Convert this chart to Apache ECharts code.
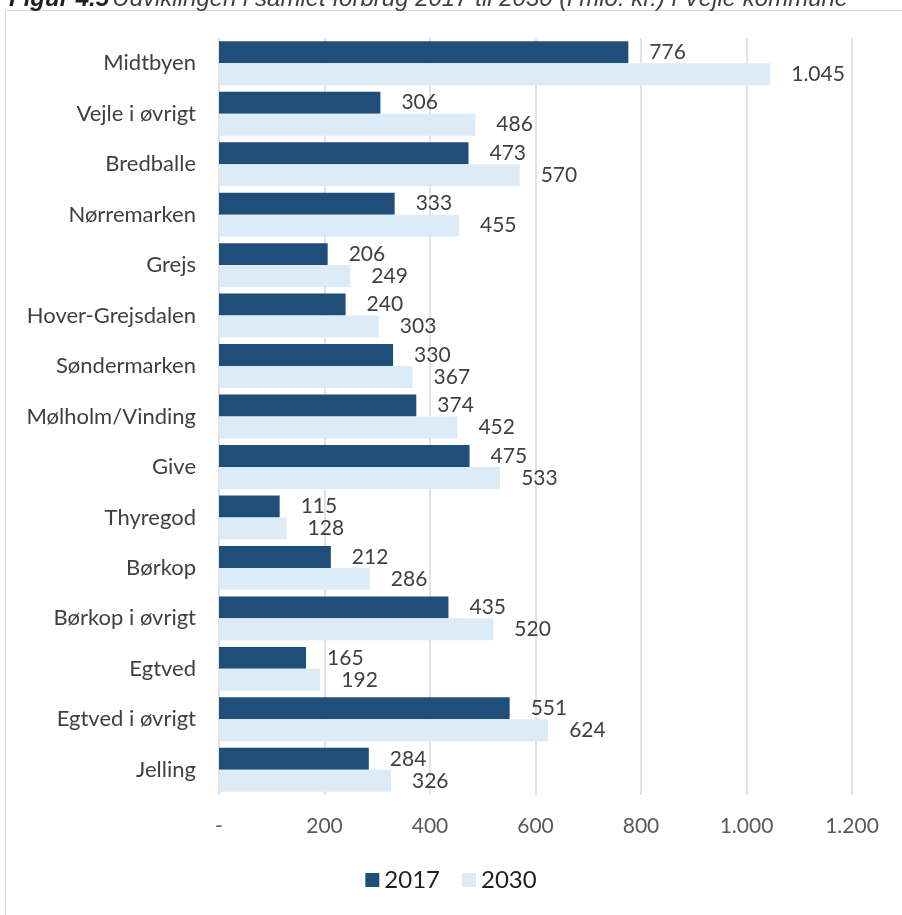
<!DOCTYPE html>
<html><head><meta charset="utf-8">
<script src="https://cdn.jsdelivr.net/npm/echarts@6/dist/echarts.min.js"></script>
<style>html,body{margin:0;padding:0;background:#fff}#c{width:902px;height:915px}</style>
</head><body><div id="c"></div>
<script>
const categories = ['Midtbyen','Vejle i øvrigt','Bredballe','Nørremarken','Grejs','Hover-Grejsdalen','Søndermarken','Mølholm/Vinding','Give','Thyregod','Børkop','Børkop i øvrigt','Egtved','Egtved i øvrigt','Jelling'];
const values2017 = [776,306,473,333,206,240,330,374,475,115,212,435,165,551,284];
const values2030 = [1045,486,570,455,249,303,367,452,533,128,286,520,192,624,326];
const seriesNames = ['2017','2030'];
const xTicks = [0,200,400,600,800,1000,1200];

function fmt(v){
  if (v === 0) return '-';
  return String(v).replace(/\B(?=(\d{3})+(?!\d))/g,'.');
}
const FONT = 'Lato';
const TFONT = 'Liberation Sans';
const chart = echarts.init(document.getElementById('c'));
const labelCfg = {show:true, position:'right', distance:21, color:'#404040', fontFamily:FONT, fontSize:21, formatter:p=>fmt(p.value)};
chart.setOption({
  animation:false,
  graphic:[
    {type:'rect', shape:{x:5.5,y:10.5,width:1000,height:1000}, style:{fill:'none',stroke:'#d9d9d9',lineWidth:1}},
    {type:'text', x:9, y:-13, style:{text:'{a|Figur 4.5} {b|Udviklingen i samlet forbrug 2017 til 2030 (i mio. kr.) i Vejle kommune}', verticalAlign:'top', rich:{
      a:{fontFamily:TFONT, fontSize:24, lineHeight:24, fontStyle:'italic', fontWeight:'bold', fill:'#1f1f1f'},
      b:{fontFamily:TFONT, fontSize:24, lineHeight:24, fontStyle:'italic', fill:'#404040'}
    }}}
  ],
  legend:{data:seriesNames, bottom:18, left:'center', itemWidth:14, itemHeight:14, itemGap:22, icon:'rect',
    textStyle:{fontFamily:FONT, fontSize:24, color:'#1f1f1f'}},
  grid:{left:219, right:50, top:38, bottom:120, containLabel:false},
  xAxis:{type:'value', min:0, max:1200, interval:200,
    axisLine:{show:false}, axisTick:{show:false},
    splitLine:{lineStyle:{color:'#d9d9d9', width:1.5}},
    axisLabel:{formatter:fmt, margin:21, color:'#595959', fontFamily:FONT, fontSize:21}},
  yAxis:{type:'category', data:categories, inverse:true,
    axisLine:{show:false}, axisTick:{show:false},
    axisLabel:{margin:23, color:'#404040', fontFamily:FONT, fontSize:22}},
  series:[
    {name:seriesNames[0], type:'bar', data:values2017, barGap:'0%', barCategoryGap:'13%', itemStyle:{color:'#1f4e79'}, label:labelCfg},
    {name:seriesNames[1], type:'bar', data:values2030, barGap:'0%', barCategoryGap:'13%', itemStyle:{color:'#ddebf7'}, label:labelCfg}
  ]
});
</script></body></html>
